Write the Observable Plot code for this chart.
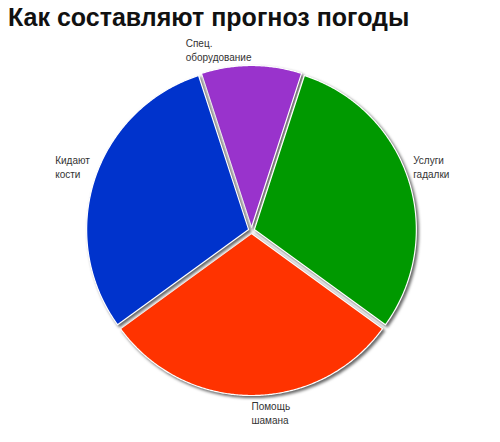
<!DOCTYPE html>
<html><head><meta charset="utf-8">
<script src="https://cdn.jsdelivr.net/npm/d3@7"></script>
<script src="https://cdn.jsdelivr.net/npm/@observablehq/plot@0.6"></script>
<style>
body{margin:0;background:#fff;}
#title{font:bold 25px "Liberation Sans",Arial,sans-serif;color:#111;line-height:34px;height:34px;padding-left:8px;white-space:nowrap;}
#chart svg{display:block;}
</style></head><body>
<div id="title">Как составляют прогноз погоды</div>
<div id="chart"></div>
<script>
const categories = ["Спец.\nоборудование", "Услуги\nгадалки", "Помощь\nшамана", "Кидают\nкости"];
const values = [10, 30, 30, 30];
const colors = ["#9933cc", "#009900", "#ff3300", "#0033cc"];

const W = 500, H = 408, cx = 251, cy = 196, R = 162;
const explode = 3 / R, labelGap = 8 / R;
const fontFamily = '"Liberation Sans", Arial, sans-serif';
const font = '10px ' + fontFamily;
const rad = Math.PI / 180;

const total = d3.sum(values);
let a = -(values[0] / total) * 180;
const slices = values.map((v, i) => {
  const a0 = a, a1 = a + v / total * 360; a = a1;
  return {name: categories[i], a0, a1, mid: (a0 + a1) / 2};
});

// polygon points for each slice (unit radius, y downward)
const points = [];
for (const s of slices) {
  const ex = explode * Math.sin(s.mid * rad), ey = -explode * Math.cos(s.mid * rad);
  points.push({name: s.name, x: ex, y: ey});
  const n = Math.ceil((s.a1 - s.a0) * 2);
  for (let k = 0; k <= n; k++) {
    const t = (s.a0 + (s.a1 - s.a0) * k / n) * rad;
    points.push({name: s.name, x: ex + Math.sin(t), y: ey - Math.cos(t)});
  }
  points.push({name: s.name, x: ex, y: ey});
}

// label layout
const ctx = document.createElement("canvas").getContext("2d");
ctx.font = font;
const labels = slices.map(s => {
  const m = ((s.mid % 360) + 360) % 360;
  const right = m > 0 && m <= 180;
  const r = 1 + labelGap;
  const px = r * Math.sin(m * rad), py = -r * Math.cos(m * rad);
  const w = d3.max(s.name.split("\n"), l => ctx.measureText(l).width) / R;
  return {name: s.name, x: right ? px : px - w, y: py, anchor: Math.cos(m * rad) < -0.7 ? "top" : "bottom"};
});

const plot = Plot.plot({
  width: W, height: H,
  margin: 0,
  x: {domain: [-cx / R, (W - cx) / R], range: [0, W], axis: null},
  y: {domain: [-cy / R, (H - cy) / R], range: [0, H], axis: null},
  color: {domain: categories, range: colors},
  style: {background: "white", overflow: "visible"},
  marks: [
    Plot.line(points, {x: "x", y: "y", z: "name", fill: "name", stroke: "white", strokeWidth: 1.2, curve: "linear"}),
    Plot.text(labels.filter(d => d.anchor === "bottom"), {x: "x", y: "y", text: "name", textAnchor: "start", lineAnchor: "bottom", lineHeight: 1.4, fontSize: 10, fontFamily, fill: "#333"}),
    Plot.text(labels.filter(d => d.anchor === "top"), {x: "x", y: "y", text: "name", textAnchor: "start", lineAnchor: "top", lineHeight: 1.4, fontSize: 10, fontFamily, fill: "#333"})
  ]
});
d3.select(plot).selectAll("path").style("filter", "drop-shadow(2px 2px 1.5px rgba(0,0,0,0.6))");
document.getElementById("chart").appendChild(plot);
</script>
</body></html>
